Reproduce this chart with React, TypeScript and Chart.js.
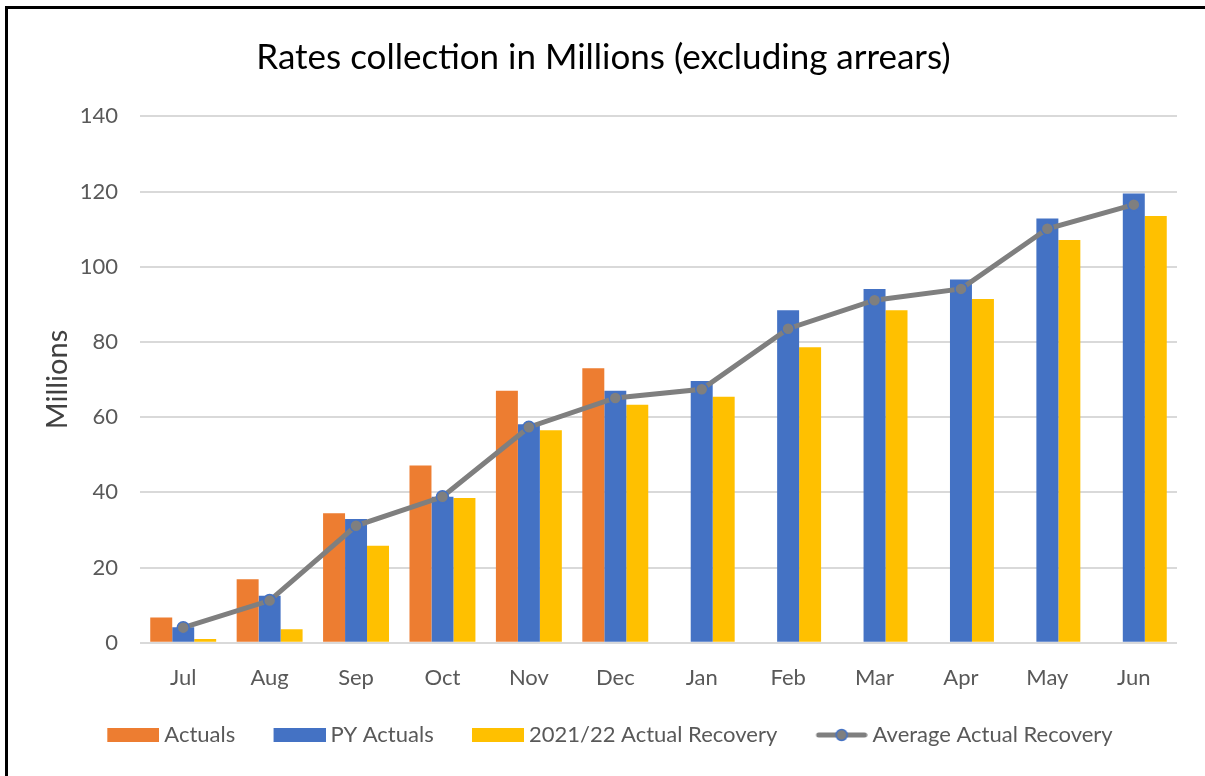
import React, { useEffect, useRef } from "react";
import { Chart, registerables } from "chart.js";

Chart.register(...registerables);

const months = ["Jul", "Aug", "Sep", "Oct", "Nov", "Dec", "Jan", "Feb", "Mar", "Apr", "May", "Jun"];
const actuals: (number | null)[] = [6.7, 16.9, 34.4, 47.1, 67.0, 73.0, null, null, null, null, null, null];
const pyActuals = [4.1, 12.5, 32.9, 38.8, 58.1, 67.0, 69.6, 88.4, 94.1, 96.6, 112.8, 119.5];
const recovery2122 = [1.0, 3.6, 25.8, 38.5, 56.5, 63.3, 65.4, 78.6, 88.4, 91.4, 107.1, 113.5];
const avgRecovery = [4.0, 11.2, 31.1, 38.8, 57.3, 65.1, 67.4, 83.5, 91.1, 94.1, 110.1, 116.5];
const yTicks = [0, 20, 40, 60, 80, 100, 120, 140];

const ORANGE = "#ED7D31";
const BLUE = "#4472C4";
const YELLOW = "#FFC000";
const GREY = "#7F7F7F";
const FONT = "Lato, 'Open Sans', sans-serif";

const LEG_BOX = 59;
const LEG_W = LEG_BOX + 12;

function rectIcon(color: string) {
  const c = document.createElement("canvas");
  c.width = LEG_W;
  c.height = 14;
  const ctx = c.getContext("2d")!;
  ctx.fillStyle = color;
  ctx.fillRect(LEG_W - 52, 0, 52, 14);
  return c;
}

function lineIcon() {
  const c = document.createElement("canvas");
  c.width = LEG_W;
  c.height = 16;
  const ctx = c.getContext("2d")!;
  const x0 = LEG_W - 52;
  ctx.strokeStyle = GREY;
  ctx.lineWidth = 5;
  ctx.lineCap = "round";
  ctx.beginPath();
  ctx.moveTo(x0 + 3, 8);
  ctx.lineTo(x0 + 49, 8);
  ctx.stroke();
  ctx.beginPath();
  ctx.arc(x0 + 26, 8, 5.5, 0, Math.PI * 2);
  ctx.fillStyle = GREY;
  ctx.fill();
  ctx.lineWidth = 1.5;
  ctx.strokeStyle = BLUE;
  ctx.stroke();
  return c;
}

export default function App() {
  const ref = useRef<HTMLCanvasElement | null>(null);

  useEffect(() => {
    if (!ref.current) return;
    const icons = [rectIcon(ORANGE), rectIcon(BLUE), rectIcon(YELLOW), lineIcon()];
    const chart = new Chart(ref.current, {
      type: "bar",
      data: {
        labels: months,
        datasets: [
          {
            type: "bar",
            label: "Actuals",
            data: actuals,
            backgroundColor: ORANGE,
            categoryPercentage: 0.763,
            barPercentage: 1,
            order: 1,
          },
          {
            type: "bar",
            label: "PY Actuals",
            data: pyActuals,
            backgroundColor: BLUE,
            categoryPercentage: 0.763,
            barPercentage: 1,
            order: 1,
          },
          {
            type: "bar",
            label: "2021/22 Actual Recovery",
            data: recovery2122,
            backgroundColor: YELLOW,
            categoryPercentage: 0.763,
            barPercentage: 1,
            order: 1,
          },
          {
            type: "line",
            label: "Average Actual Recovery",
            data: avgRecovery,
            borderColor: GREY,
            backgroundColor: GREY,
            borderWidth: 5,
            pointRadius: 6,
            pointBackgroundColor: GREY,
            pointBorderColor: BLUE,
            pointBorderWidth: 1.5,
            tension: 0,
            order: 0,
          } as any,
        ],
      },
      options: {
        responsive: false,
        animation: false,
        events: [],
        layout: { padding: { top: 0, left: 30, right: 28, bottom: 20 } },
        plugins: {
          title: {
            display: true,
            text: "Rates collection in Millions (excluding arrears)",
            color: "#000000",
            font: { family: FONT, size: 35, weight: "normal" },
            padding: { top: 37, bottom: 37.3 },
          },
          tooltip: { enabled: false },
          legend: {
            position: "bottom",
            labels: {
              usePointStyle: true,
              pointStyleWidth: LEG_BOX,
              boxHeight: 14,
              padding: 25.3,
              color: "#595959",
              font: { family: FONT, size: 22 },
              generateLabels: (ch: any) => {
                const items = Chart.defaults.plugins.legend.labels.generateLabels(ch);
                items.sort((a: any, b: any) => a.datasetIndex - b.datasetIndex);
                return items.map((it: any) => ({ ...it, pointStyle: icons[it.datasetIndex] }));
              },
            },
          },
        },
        scales: {
          x: {
            grid: { display: false },
            border: { display: false },
            ticks: {
              color: "#595959",
              font: { family: FONT, size: 22 },
              padding: 14,
            },
            afterFit: (s: any) => {
              s.height = 56;
            },
          },
          y: {
            min: 0,
            max: 140,
            afterBuildTicks: (s: any) => {
              s.ticks = yTicks.map((v) => ({ value: v }));
            },
            grid: { color: "#D9D9D9", lineWidth: 2, drawTicks: false },
            border: { display: false },
            ticks: {
              color: "#595959",
              font: { family: FONT, size: 22 },
              padding: 22,
            },
            title: {
              display: true,
              text: "Millions",
              color: "#404040",
              font: { family: FONT, size: 29 },
              padding: { top: 10.6, bottom: 0 },
            },
            afterFit: (s: any) => {
              s.width = 110;
            },
          },
        },
      },
    });
    return () => chart.destroy();
  }, []);

  return (
    <div
      style={{
        position: "fixed",
        left: 0,
        top: 0,
        width: 1205,
        height: 776,
        overflow: "hidden",
        background: "#ffffff",
      }}
    >
      <canvas ref={ref} width={1205} height={776} style={{ display: "block" }} />
      <div
        style={{
          position: "absolute",
          left: 5,
          top: 6,
          width: 1260,
          height: 820,
          border: "3px solid #000000",
          boxSizing: "border-box",
          pointerEvents: "none",
        }}
      />
    </div>
  );
}
